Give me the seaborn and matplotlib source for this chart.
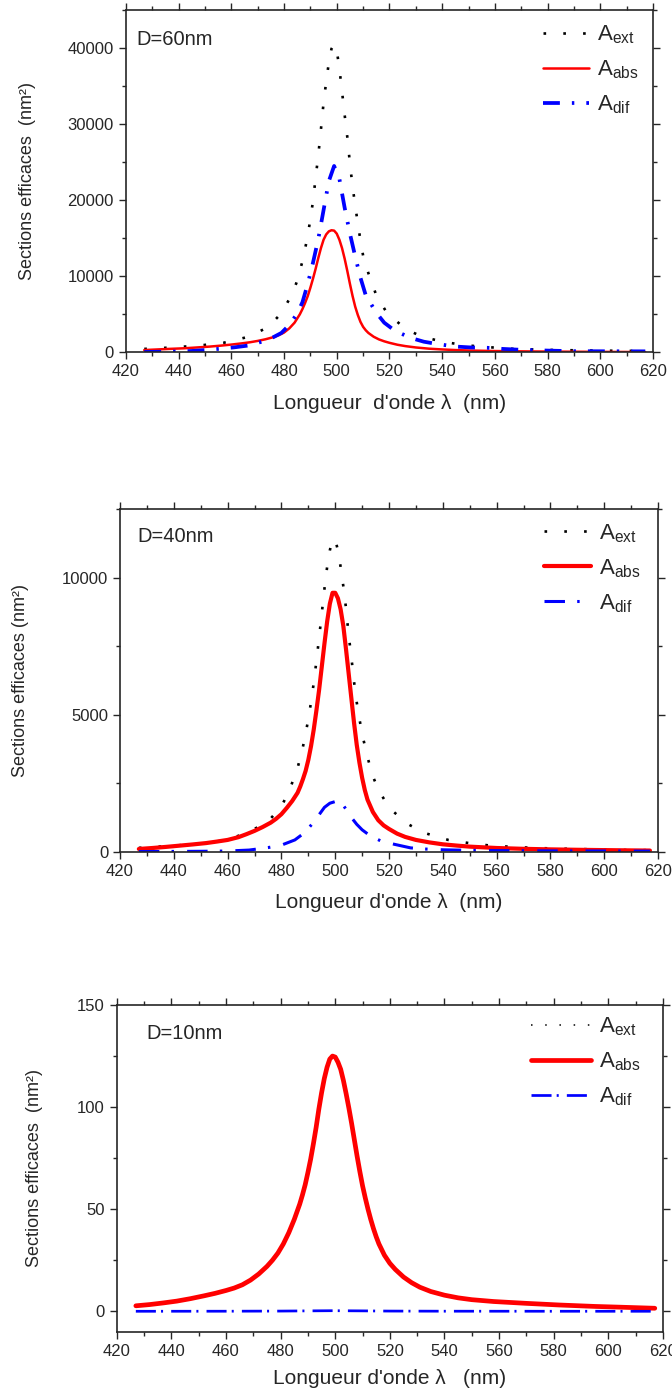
import matplotlib
matplotlib.use('Agg')
import matplotlib.pyplot as plt
import seaborn as sns
from matplotlib.ticker import MultipleLocator

# Sections efficaces (nm²) en fonction de la longueur d'onde, pour D = 60, 40, 10 nm

# --- D = 60 nm ---
wl_abs60 = [427, 432, 437, 442, 447, 452, 456, 460, 464, 467, 470, 473, 476, 478, 480, 482, 484, 486, 487, 488,
            489, 490, 491, 492, 493, 494, 495, 496, 497, 498, 499, 500, 501, 502, 503, 504, 505, 506, 507, 508,
            509, 510, 511, 512, 514, 516, 518, 520, 523, 526, 530, 535, 540, 545, 550, 560, 570, 580, 590, 600, 617]
abs60 = [300, 380, 460, 530, 640, 760, 880, 1020, 1180, 1320, 1500, 1720, 2000, 2250, 2600, 3150, 3900, 5000, 5700, 6500,
         7400, 8500, 9700, 11000, 12400, 13700, 14800, 15500, 15900, 16050, 16000, 15600, 14800, 13700, 12300, 10700, 9000, 7400, 6000, 4900,
         4000, 3350, 2900, 2550, 2050, 1700, 1450, 1250, 1000, 820, 640, 480, 380, 300, 240, 170, 130, 100, 80, 60, 40]
wl_ext60 = [427, 432, 440, 448, 457, 466, 474, 479, 483, 485, 487, 488, 489, 490, 491, 492, 493, 494, 495, 496,
            497, 498, 499, 500, 501, 502, 503, 504, 505, 506, 507, 508, 509, 510, 512, 515, 519, 526, 532, 540,
            549, 565, 582, 600, 617]
ext60 = [450, 530, 700, 900, 1250, 2000, 3300, 5150, 7600, 9400, 12000, 13600, 15400, 17500, 19900, 23000, 25900, 29300, 32800, 35600,
         38100, 39900, 40500, 39700, 37300, 34300, 31200, 28300, 24800, 21800, 19300, 16900, 14700, 12700, 10400, 7500, 5200, 3100, 2100, 1400,
         920, 480, 310, 220, 180]
wl_dif60 = [427, 435, 440, 445, 450, 455, 461, 467, 472, 476, 479, 482, 485, 487, 489, 491, 493, 495, 497, 499,
            501, 503, 505, 507, 509, 511, 515, 518, 522, 528, 533, 538, 545, 551, 557, 563, 570, 580, 590, 600, 617]
dif60 = [50, 80, 120, 180, 300, 450, 650, 920, 1450, 2000, 2550, 3600, 5100, 6600, 9000, 11800, 14900, 18700, 22500, 24500,
         22800, 19000, 15600, 12600, 9800, 7500, 5200, 3900, 2850, 1900, 1400, 1100, 760, 640, 600, 450, 330, 230, 150, 140, 130]

# --- D = 40 nm ---
wl_abs40 = [427, 432, 437, 442, 447, 452, 456, 460, 464, 467, 470, 473, 476, 478, 480, 482, 484, 486, 487, 488,
            489, 490, 491, 492, 493, 494, 495, 496, 497, 498, 499, 500, 501, 502, 503, 504, 505, 506, 507, 508,
            509, 510, 511, 512, 514, 516, 518, 520, 523, 526, 530, 535, 540, 545, 550, 560, 570, 580, 590, 600, 610, 617]
abs40 = [100, 135, 175, 220, 265, 315, 370, 430, 530, 640, 760, 900, 1060, 1200, 1370, 1600, 1850, 2150, 2380, 2650,
         2950, 3350, 3850, 4450, 5150, 5900, 6750, 7600, 8400, 9050, 9450, 9450, 9250, 8850, 8250, 7400, 6500, 5600, 4700, 3900,
         3250, 2700, 2250, 1900, 1450, 1150, 960, 830, 660, 540, 430, 340, 270, 225, 185, 135, 105, 85, 70, 58, 48, 42]
wl_ext40 = [427, 435, 440, 448, 458, 467, 475, 480, 483, 486, 488, 489, 490, 491, 492, 493, 494, 495, 496, 497,
            498, 499, 500, 501, 502, 503, 504, 505, 506, 507, 508, 509, 510, 512, 514, 516, 520, 527, 533, 542,
            550, 558, 567, 575, 584, 592, 601, 609, 617]
ext40 = [140, 190, 220, 280, 400, 670, 1100, 1650, 2250, 3050, 3830, 4300, 4850, 5450, 6150, 6950, 7800, 8700, 9600, 10400,
         11000, 11400, 11400, 11000, 10400, 9700, 8900, 7900, 7100, 6200, 5450, 4850, 4300, 3450, 2750, 2280, 1600, 1010, 690, 430,
         310, 220, 170, 135, 110, 95, 75, 60, 55]
wl_dif40 = [427, 440, 450, 460, 468, 475, 480, 485, 488, 490, 492, 494, 496, 498, 500, 502, 504, 506, 508, 510,
            513, 517, 522, 528, 533, 540, 550, 560, 580, 600, 617]
dif40 = [5, 10, 15, 25, 60, 150, 240, 430, 650, 850, 1080, 1350, 1620, 1770, 1830, 1840, 1550, 1250, 1000, 800,
         580, 390, 270, 140, 100, 70, 50, 40, 30, 25, 20]

# --- D = 10 nm ---
wl_10 = [427, 432, 437, 442, 447, 452, 456, 460, 463, 466, 469, 472, 475, 477, 479, 481, 483, 485, 487, 488,
         489, 490, 491, 492, 493, 494, 495, 496, 497, 498, 499, 500, 501, 502, 503, 504, 505, 506, 507, 508,
         509, 510, 511, 512, 513, 514, 515, 516, 518, 520, 522, 525, 528, 531, 535, 540, 545, 550, 558, 570,
         582, 595, 605, 617]
abs10 = [2.7, 3.3, 4.1, 5.0, 6.2, 7.6, 8.8, 10.2, 11.4, 13.0, 15.3, 18.3, 22.0, 25.0, 28.5, 33.0, 38.5, 45.0, 52.5, 57.0,
         62.0, 68.0, 74.5, 82.0, 90.0, 99.0, 107.0, 114.0, 119.5, 123.5, 125.0, 124.5, 122.0, 118.5, 113.0, 106.5, 99.5, 92.0, 84.0, 76.0,
         68.5, 61.5, 55.5, 50.0, 45.0, 40.5, 36.5, 33.0, 27.5, 23.5, 20.5, 16.8, 14.0, 11.8, 9.7, 7.9, 6.6, 5.7, 4.8, 3.9,
         3.1, 2.4, 2.0, 1.5]
ext10 = [2.7, 3.3, 4.1, 5.0, 6.2, 7.6, 8.8, 10.2, 11.5, 13.1, 15.4, 18.4, 22.1, 25.1, 28.6, 33.1, 38.6, 45.2, 52.7, 57.2,
         62.2, 68.2, 74.7, 82.2, 90.3, 99.3, 107.3, 114.3, 119.8, 123.8, 125.3, 124.8, 122.3, 118.8, 113.3, 106.8, 99.8, 92.2, 84.2, 76.2,
         68.7, 61.7, 55.7, 50.1, 45.1, 40.6, 36.6, 33.1, 27.6, 23.6, 20.6, 16.9, 14.0, 11.8, 9.7, 7.9, 6.6, 5.7, 4.8, 3.9,
         3.1, 2.4, 2.0, 1.5]
wl_dif10 = [427, 460, 480, 490, 499, 510, 520, 540, 580, 617]
dif10 = [0.02, 0.05, 0.12, 0.22, 0.3, 0.22, 0.12, 0.06, 0.03, 0.02]

labels = [r'$A_{ext}$', r'$A_{abs}$', r'$A_{dif}$']

sns.set_style('ticks')
plt.rcParams['font.family'] = ['Liberation Sans', 'DejaVu Sans']
plt.rcParams['mathtext.fontset'] = 'custom'
plt.rcParams['mathtext.rm'] = 'Liberation Sans'
plt.rcParams['mathtext.it'] = 'Liberation Sans'
plt.rcParams['mathtext.default'] = 'regular'

fig = plt.figure(figsize=(6.72, 13.91), dpi=100)
ax1 = fig.add_axes([0.1872, 0.7467, 0.7848, 0.2461])
ax2 = fig.add_axes([0.1786, 0.3877, 0.8006, 0.2462])
ax3 = fig.add_axes([0.1737, 0.0426, 0.8129, 0.2349])

# dash patterns are in units of the line width (points)
panels = [
    dict(ax=ax1, ext=(wl_ext60, ext60), abs=(wl_abs60, abs60), dif=(wl_dif60, dif60),
         ext_ls=(0, (1, 6.5)), ext_lw=1.9, abs_lw=1.8, dif_ls=(0, (4.5, 3.2, 0.65, 3.2)), dif_lw=2.7,
         ylim=(0, 45000), major=10000, minor=5000, title='D=60nm', tx=0.021, ty=0.914,
         xlabel="Longueur  d'onde λ  (nm)", ylabel='Sections efficaces  (nm²)', ylx=-0.170, xly=-0.121,
         leg=(0.791, 0.960), hl=2.07),
    dict(ax=ax2, ext=(wl_ext40, ext40), abs=(wl_abs40, abs40), dif=(wl_dif40, dif40),
         ext_ls=(0, (1, 6.5)), ext_lw=1.9, abs_lw=3.0, dif_ls=(0, (6.7, 4.0, 0.8, 4.3)), dif_lw=2.2,
         ylim=(0, 12500), major=5000, minor=2500, title='D=40nm', tx=0.033, ty=0.92,
         xlabel="Longueur d'onde λ  (nm)", ylabel='Sections efficaces (nm²)', ylx=-0.170, xly=-0.122,
         leg=(0.788, 0.963), hl=2.1),
    dict(ax=ax3, ext=(wl_10, ext10), abs=(wl_10, abs10), dif=(wl_dif10, dif10),
         ext_ls=(0, (1, 8.3)), ext_lw=1.1, abs_lw=3.4, dif_ls=(0, (7.4, 1.9, 0.75, 3.0)), dif_lw=1.95,
         ylim=(-10, 150), major=50, minor=25, title='D=10nm', tx=0.054, ty=0.914,
         xlabel="Longueur d'onde λ   (nm)", ylabel='Sections efficaces  (nm²)', ylx=-0.135, xly=-0.114,
         leg=(0.758, 0.967), hl=2.7),
]

for p in panels:
    ax = p['ax']
    sns.lineplot(x=p['ext'][0], y=p['ext'][1], ax=ax, color='black',
                 linestyle=p['ext_ls'], lw=p['ext_lw'], label=labels[0])
    sns.lineplot(x=p['abs'][0], y=p['abs'][1], ax=ax, color='#ff0000',
                 lw=p['abs_lw'], label=labels[1])
    sns.lineplot(x=p['dif'][0], y=p['dif'][1], ax=ax, color='#0000ff',
                 linestyle=p['dif_ls'], lw=p['dif_lw'], label=labels[2])

    ax.set_xlim(420, 620)
    ax.set_ylim(*p['ylim'])
    ax.xaxis.set_major_locator(MultipleLocator(20))
    ax.xaxis.set_minor_locator(MultipleLocator(10))
    ax.yaxis.set_major_locator(MultipleLocator(p['major']))
    ax.yaxis.set_minor_locator(MultipleLocator(p['minor']))
    ax.tick_params(which='both', direction='out', top=True, right=True, labelsize=12, width=1)
    ax.tick_params(which='major', length=5)
    ax.tick_params(which='minor', length=3)
    for s in ax.spines.values():
        s.set_linewidth(1.2)
        s.set_visible(True)

    ax.set_xlabel(p['xlabel'], fontsize=15)
    ax.set_ylabel(p['ylabel'], fontsize=13)
    ax.xaxis.set_label_coords(0.5, p['xly'])
    ax.yaxis.set_label_coords(p['ylx'], 0.5)
    ax.text(p['tx'], p['ty'], p['title'], transform=ax.transAxes, fontsize=14.5, va='center', ha='left')

    ax.legend(loc='upper left', bbox_to_anchor=p['leg'], frameon=False, fontsize=16,
              handlelength=p['hl'], handletextpad=0.36, labelspacing=0.56, borderpad=0,
              borderaxespad=0)

fig.savefig('out.png', dpi=100)
